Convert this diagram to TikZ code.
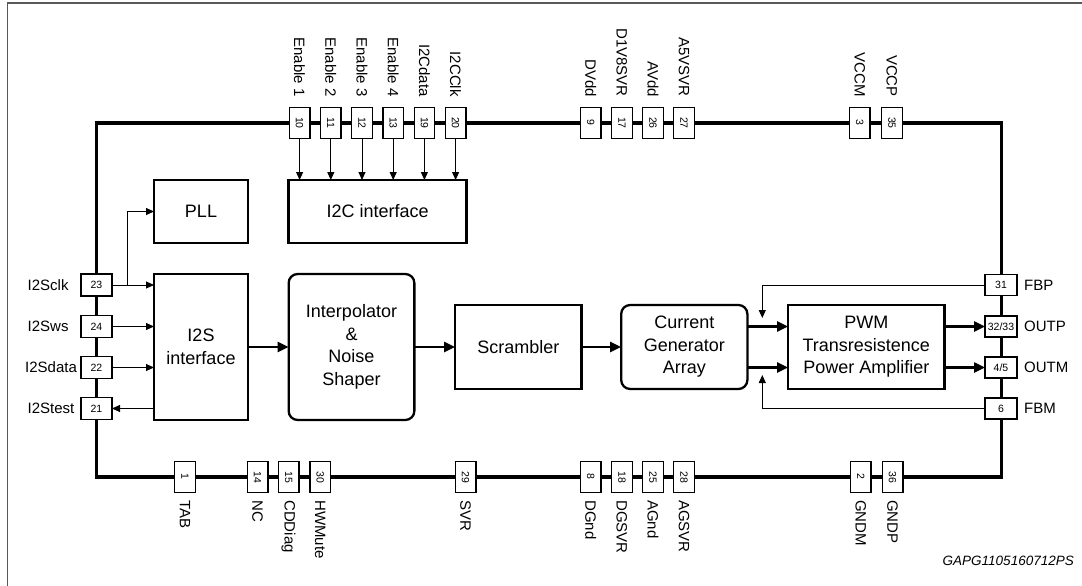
\documentclass[tikz,border=0pt]{standalone}
\usepackage{fontspec}
\setmainfont{Liberation Sans}
\usetikzlibrary{arrows.meta}
\begin{document}
\begin{tikzpicture}[x=1pt,y=-1pt,
  chip/.style={line width=3.5pt},
  blk/.style={draw, line width=2.3pt, inner sep=0pt, outer sep=0pt, align=center, font=\fontsize{18}{22.5}\selectfont},
  rblk/.style={blk, rounded corners=9pt},
  vpin/.style={draw, fill=white, line width=1.3pt, minimum width=20.5pt, minimum height=31pt, inner sep=0pt, outer sep=0pt, font=\fontsize{10.5}{12}\selectfont},
  hpin/.style={draw, fill=white, line width=1.3pt, minimum width=31pt, minimum height=22pt, inner sep=0pt, outer sep=0pt, font=\fontsize{10.5}{12}\selectfont},
  lbl/.style={inner sep=0pt, font=\fontsize{15}{18}\selectfont},
  tlbl/.style={lbl, rotate=-90, anchor=east},
  blbl/.style={lbl, rotate=-90, anchor=west},
  sigarrow/.style={line width=1pt, -{Triangle[length=8pt,width=7pt]}},
  busarrow/.style={line width=2.4pt, -{Triangle[length=11pt,width=10pt]}},
]
\useasboundingbox (0,0) rectangle (1082,586);
% outer frame
\draw[black!65, line width=1.6pt] (7.6,586) -- (7.6,3) -- (1082,3);

% chip outline
\draw[chip] (96.4,123) rectangle (1001.5,477);

% blocks
\node[blk, minimum width=94pt, minimum height=63pt] (pll) at (201,211.5) {PLL};
\node[blk, minimum width=178pt, minimum height=63pt] (i2c) at (377.6,211.5) {I2C interface};
\node[blk, minimum width=94pt, minimum height=146pt] (i2s) at (201,347) {I2S\\interface};
\node[rblk, minimum width=125.7pt, minimum height=146pt] (interp) at (351.5,347) {Interpolator\\\&\\Noise\\Shaper};
\node[blk, minimum width=126.3pt, minimum height=84pt] (scr) at (518.3,347) {Scrambler};
\node[rblk, minimum width=126.2pt, minimum height=84pt] (cga) at (684.3,347) {Current\\Generator\\Array};
\node[blk, minimum width=156.2pt, minimum height=84pt] (pwm) at (866.3,347) {PWM\\Transresistence\\Power Amplifier};

% top pins
\foreach \n/\x/\t in {10/299.6/Enable 1, 11/330.8/Enable 2, 12/362/Enable 3, 13/393.2/Enable 4, 19/424.4/I2Cdata, 20/455.6/I2CClk,
                      9/590.8/DVdd, 17/621.9/D1V8SVR, 26/653/AVdd, 27/684/A5VSVR, 3/859.7/VCCM, 35/891.9/VCCP} {
  \node[vpin] (p\n) at (\x,123) {\rotatebox[origin=c]{-90}{\n}};
  \node[tlbl] (t\n) at (\x,97) {\t};
}
% bottom pins
\foreach \n/\x/\t in {1/185/TAB, 14/257.6/NC, 15/288.6/CDDiag, 30/320.2/HWMute, 29/465.6/SVR,
                      8/590.8/DGnd, 18/621.9/DGSVR, 25/653/AGnd, 28/684/AGSVR, 2/860.8/GNDM, 36/892.6/GNDP} {
  \node[vpin] (p\n) at (\x,477) {\rotatebox[origin=c]{-90}{\n}};
  \node[blbl] (b\n) at (\x,500) {\t};
}
% left pins
\node[hpin] (p23) at (96.5,285) {23};
\node[hpin] (p24) at (96.5,326.5) {24};
\node[hpin] (p22) at (96.5,367.5) {22};
\node[hpin] (p21) at (96.5,408.5) {21};
\node[lbl, anchor=west] (l23) at (27.5,285) {I2Sclk};
\node[lbl, anchor=west] (l24) at (27.5,326.5) {I2Sws};
\node[lbl, anchor=west] (l22) at (25,367.5) {I2Sdata};
\node[lbl, anchor=west] (l21) at (27.5,408.5) {I2Stest};
% right pins
\node[hpin, minimum width=32pt, minimum height=21pt] (p31) at (1001,285) {31};
\node[hpin, minimum width=32pt, minimum height=21pt] (p3233) at (1001,326.5) {32/33};
\node[hpin, minimum width=32pt, minimum height=21pt] (p45) at (1001,367.5) {4/5};
\node[hpin, minimum width=32pt, minimum height=21pt] (p6) at (1001,408.5) {6};
\node[lbl, anchor=west] (l31) at (1024,285) {FBP};
\node[lbl, anchor=west] (l3233) at (1024,326.5) {OUTP};
\node[lbl, anchor=west] (l45) at (1024,367.5) {OUTM};
\node[lbl, anchor=west] (l6) at (1024,408.5) {FBM};

% I2C arrows
\foreach \n in {10,11,12,13,19,20} {
  \draw[sigarrow] (p\n.south) -- (p\n.south |- i2c.north);
}
% I2S arrows
\coordinate (br) at (127.4,285);
\draw[sigarrow] (p23.east) -- (p23.east -| i2s.west);
\draw[sigarrow] (br) |- (pll.west);
\draw[sigarrow] (p24.east) -- (p24.east -| i2s.west);
\draw[sigarrow] (p22.east) -- (p22.east -| i2s.west);
\draw[sigarrow] (p21.east -| i2s.west) -- (p21.east);

% main signal path
\draw[busarrow] (i2s.east) -- (interp.west);
\draw[busarrow] (interp.east) -- (scr.west);
\draw[busarrow] (scr.east) -- (cga.west);
\draw[busarrow] (cga.east |- p3233) -- (pwm.west |- p3233);
\draw[busarrow] (cga.east |- p45) -- (pwm.west |- p45);
\draw[busarrow] (pwm.east |- p3233) -- (p3233.west);
\draw[busarrow] (pwm.east |- p45) -- (p45.west);

% feedback
\coordinate (fbp) at (762.3,285);
\coordinate (fbpE) at (762.3,318);
\coordinate (fbm) at (762.3,408.5);
\coordinate (fbmE) at (762.3,375);
\draw[sigarrow] (p31.west) -- (fbp) -- (fbpE);
\draw[sigarrow] (p6.west) -- (fbm) -- (fbmE);

% caption
\node[anchor=east, inner sep=0pt, font=\itshape\fontsize{13.5}{16}\selectfont] (cap) at (1074,561) {GAPG1105160712PS};
\end{tikzpicture}
\end{document}
